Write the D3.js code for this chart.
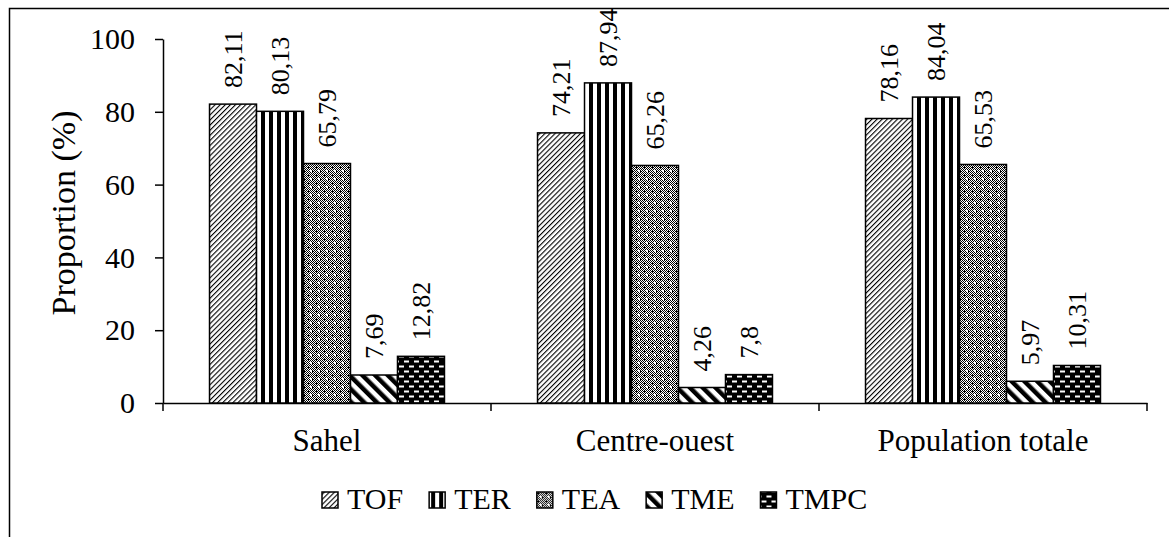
<!DOCTYPE html>
<html>
<head>
<meta charset="utf-8">
<script src="https://cdn.jsdelivr.net/npm/d3@7"></script>
<style>
  body { margin: 0; background: #fff; }
  svg { display: block; font-family: "Liberation Serif", "Times New Roman", serif; }
  .axis path, .axis line { stroke: #000; stroke-width: 1.5; }
  .axis text { fill: #000; font-family: "Liberation Serif", "Times New Roman", serif; }
</style>
</head>
<body>
<div class="chart"></div>
<script>
// data
var categories = ["Sahel", "Centre-ouest", "Population totale"];
var seriesNames = ["TOF", "TER", "TEA", "TME", "TMPC"];
var tofValues = [82.11, 74.21, 78.16];
var terValues = [80.13, 87.94, 84.04];
var teaValues = [65.79, 65.26, 65.53];
var tmeValues = [7.69, 4.26, 5.97];
var tmpcValues = [12.82, 7.8, 10.31];
var yTicks = [0, 20, 40, 60, 80, 100];

var seriesValues = [tofValues, terValues, teaValues, tmeValues, tmpcValues];

var svgWidth = 1169;
var svgHeight = 537;
var margin = { top: 39, right: 22, bottom: 134, left: 163 };
var width = svgWidth - margin.left - margin.right;
var height = svgHeight - margin.top - margin.bottom;

var svg = d3.select(".chart")
  .append("svg")
  .attr("width", svgWidth)
  .attr("height", svgHeight);

// fill patterns
var defs = svg.append("defs");

// TOF: thin upward diagonals
var pTof = defs.append("pattern").attr("id", "p-TOF")
  .attr("patternUnits", "userSpaceOnUse").attr("width", 3.6).attr("height", 3.6)
  .attr("patternTransform", "rotate(45)");
pTof.append("rect").attr("width", 3.6).attr("height", 3.6).attr("fill", "#fff");
pTof.append("rect").attr("width", 1.1).attr("height", 3.6).attr("fill", "#000");

// TER: vertical stripes
var pTer = defs.append("pattern").attr("id", "p-TER")
  .attr("patternUnits", "userSpaceOnUse").attr("width", 8).attr("height", 8);
pTer.append("rect").attr("width", 8).attr("height", 8).attr("fill", "#fff");
pTer.append("rect").attr("x", 2).attr("width", 4).attr("height", 8).attr("fill", "#000");

// TEA: fine checker with white dots
var pTea = defs.append("pattern").attr("id", "p-TEA")
  .attr("patternUnits", "userSpaceOnUse").attr("width", 8).attr("height", 8);
pTea.append("rect").attr("width", 8).attr("height", 8).attr("fill", "#fff");
for (var i = 0; i < 8; i++) {
  for (var j = 0; j < 8; j++) {
    if ((i + j) % 2 === 0) {
      pTea.append("rect").attr("x", i).attr("y", j).attr("width", 1).attr("height", 1).attr("fill", "#000");
    }
  }
}
pTea.append("rect").attr("x", 1).attr("y", 0).attr("width", 1).attr("height", 1).attr("fill", "#000");
pTea.append("rect").attr("x", 5).attr("y", 4).attr("width", 1).attr("height", 1).attr("fill", "#000");
pTea.append("rect").attr("x", 3).attr("y", 3).attr("width", 2).attr("height", 2).attr("fill", "#fff");

// TME: wide downward diagonals
var pTme = defs.append("pattern").attr("id", "p-TME")
  .attr("patternUnits", "userSpaceOnUse").attr("width", 9).attr("height", 9)
  .attr("patternTransform", "rotate(-45)");
pTme.append("rect").attr("width", 9).attr("height", 9).attr("fill", "#fff");
pTme.append("rect").attr("width", 4.5).attr("height", 9).attr("fill", "#000");

// TMPC: black with white dashes
var pTmpc = defs.append("pattern").attr("id", "p-TMPC")
  .attr("patternUnits", "userSpaceOnUse").attr("width", 10).attr("height", 10);
pTmpc.append("rect").attr("width", 10).attr("height", 10).attr("fill", "#000");
pTmpc.append("rect").attr("x", 1).attr("y", 1.5).attr("width", 5).attr("height", 2).attr("fill", "#fff");
pTmpc.append("rect").attr("x", 6).attr("y", 6.5).attr("width", 5).attr("height", 2).attr("fill", "#fff");
pTmpc.append("rect").attr("x", -4).attr("y", 6.5).attr("width", 5).attr("height", 2).attr("fill", "#fff");

// outer frame (top and left only visible)
svg.append("path")
  .attr("d", "M9.5," + svgHeight + "V8.5H" + svgWidth)
  .attr("fill", "none")
  .attr("stroke", "#000")
  .attr("stroke-width", 1.5);

var chartGroup = svg.append("g")
  .attr("transform", `translate(${margin.left}, ${margin.top})`);

// scales
var x0 = d3.scaleBand()
  .domain(categories)
  .range([0, width])
  .padding(0);

var x1 = d3.scaleBand()
  .domain(seriesNames)
  .range([0, x0.bandwidth()])
  .paddingInner(0)
  .paddingOuter(0.99);

var y = d3.scaleLinear()
  .domain([0, 100])
  .range([height, 0]);

// axes
var leftAxis = d3.axisLeft(y)
  .tickValues(yTicks)
  .tickSize(8)
  .tickSizeOuter(0)
  .tickPadding(20);

chartGroup.append("g")
  .attr("class", "axis")
  .call(leftAxis)
  .selectAll("text")
  .attr("font-size", 30);

var bottomAxis = d3.axisBottom(x0)
  .tickSize(0)
  .tickSizeOuter(0)
  .tickPadding(26);

var xAxisG = chartGroup.append("g")
  .attr("class", "axis")
  .attr("transform", `translate(0, ${height})`)
  .call(bottomAxis);
xAxisG.selectAll("text").attr("font-size", 31);

// boundary tick marks between categories
var boundaries = categories.map(function(c) { return x0(c); }).concat([x0.range()[1]]);
xAxisG.selectAll(".bound")
  .data(boundaries)
  .enter()
  .append("line")
  .attr("class", "bound")
  .attr("x1", d => d).attr("x2", d => d)
  .attr("y1", 0).attr("y2", 8)
  .attr("stroke", "#000")
  .attr("stroke-width", 1.5);

// bars
var groups = chartGroup.selectAll(".cat")
  .data(categories)
  .enter()
  .append("g")
  .attr("class", "cat")
  .attr("transform", d => `translate(${x0(d)}, 0)`);

var barData = function(cat, ci) {
  return seriesNames.map(function(s, si) {
    return { series: s, value: seriesValues[si][ci] };
  });
};

groups.selectAll("rect")
  .data(barData)
  .enter()
  .append("rect")
  .attr("x", d => x1(d.series))
  .attr("y", d => y(d.value))
  .attr("width", x1.bandwidth())
  .attr("height", d => height - y(d.value))
  .attr("fill", d => `url(#p-${d.series})`)
  .attr("stroke", "#000")
  .attr("stroke-width", 1.5);

// value labels, rotated
groups.selectAll(".val")
  .data(barData)
  .enter()
  .append("text")
  .attr("class", "val")
  .attr("transform", d => `translate(${x1(d.series) + x1.bandwidth() / 2}, ${y(d.value) - 16}) rotate(-90)`)
  .attr("dy", "0.35em")
  .attr("text-anchor", "start")
  .attr("font-size", 26)
  .text(d => String(d.value).replace(".", ","));

// y axis title
svg.append("text")
  .attr("transform", `translate(75, ${margin.top + height / 2 - 8}) rotate(-90)`)
  .attr("text-anchor", "middle")
  .attr("font-size", 34)
  .text("Proportion (%)");

// legend
var legend = svg.append("g")
  .attr("transform", "translate(322, 509)");

var lx = 0;
seriesNames.forEach(function(s) {
  var item = legend.append("g").attr("transform", `translate(${lx}, 0)`);
  item.append("rect")
    .attr("x", 0).attr("y", -17)
    .attr("width", 16).attr("height", 16)
    .attr("fill", `url(#p-${s})`)
    .attr("stroke", "#000")
    .attr("stroke-width", 1.5);
  var t = item.append("text")
    .attr("x", 25)
    .attr("font-size", 30)
    .text(s);
  lx += 25 + t.node().getComputedTextLength() + 26;
});
</script>
</body>
</html>
